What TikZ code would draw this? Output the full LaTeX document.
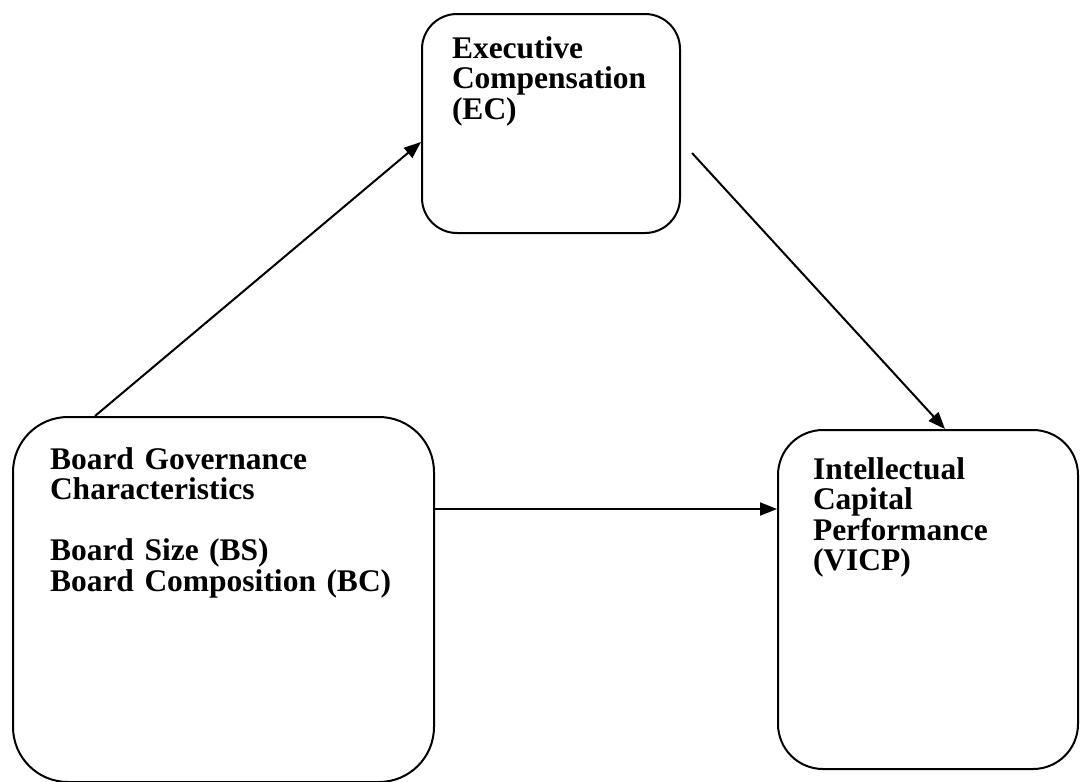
\documentclass[tikz,border=0pt]{standalone}
\usepackage{fontspec}
\setmainfont{Liberation Serif}
\usetikzlibrary{arrows.meta, positioning}
\hyphenpenalty=10000

\begin{document}
\begin{tikzpicture}[x=1pt, y=-1pt,
  font=\fontsize{31.5}{30.5}\selectfont\bfseries,
  b/.style={draw, line width=2pt, align=left, anchor=north west,
            inner ysep=0pt},
  a/.style={-{Triangle[length=17pt, width=13pt]}, line width=2pt}]
\fill[white] (0,0) rectangle (1080,782);
\useasboundingbox (0,0) rectangle (1080,782);
\node[b, rounded corners=35pt, inner xsep=30pt, text width=198pt,
      text height=44pt, text depth=175pt] (ec) at (421,13)
  {Executive\\Compensation\\(EC)};
\node[b, rounded corners=55pt, inner xsep=37pt, text width=347pt,
      text height=52pt, text depth=313pt] (bg) at (12,416)
  {Board Governance\\Characteristics\\[30.5pt]Board Size (BS)\\Board Composition (BC)};
\node[b, rounded corners=45pt, inner xsep=35pt, text width=230pt,
      text height=49pt, text depth=290pt] (icp) at (777,429)
  {Intellectual\\Capital\\Performance\\(VICP)};
\coordinate (ecout) at (692,153);
\draw[a] ([xshift=83pt]bg.north west) -- ([yshift=-129pt]ec.north west);
\draw[a] (ecout) -- ([xshift=168pt]icp.north west);
\draw[a] ([yshift=-93pt]bg.north east) -- ([yshift=-80pt]icp.north west);
\end{tikzpicture}
\end{document}
